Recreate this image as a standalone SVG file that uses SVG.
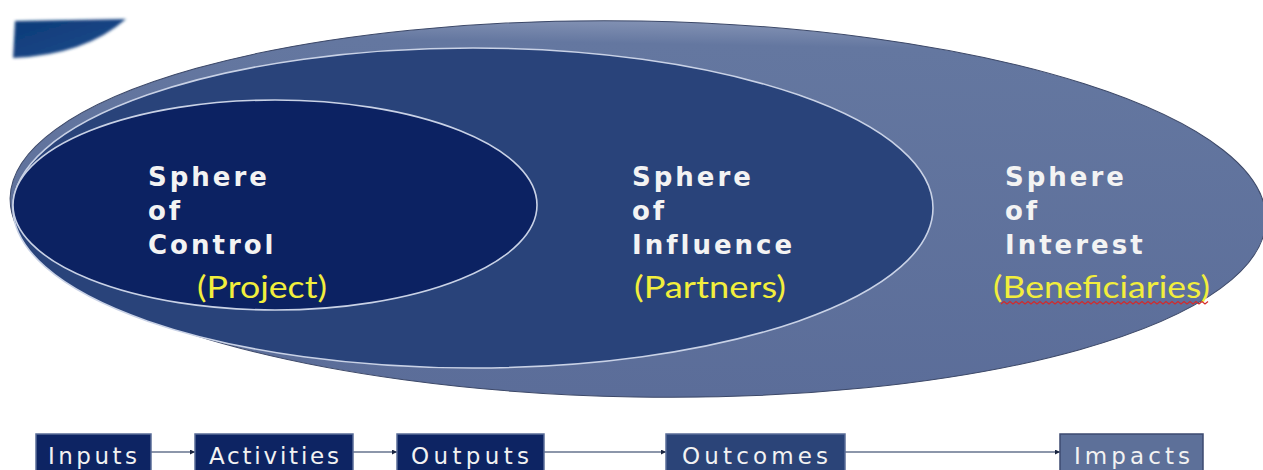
<svg xmlns="http://www.w3.org/2000/svg" width="1263" height="470" viewBox="0 0 1263 470">
  <defs>
    <filter id="blur" x="-20%" y="-50%" width="140%" height="200%">
      <feGaussianBlur stdDeviation="1.5"/>
    </filter>
    <linearGradient id="outerGrad" x1="0" y1="0" x2="0" y2="1">
      <stop offset="0" stop-color="#8291b3"/>
      <stop offset="0.06" stop-color="#6477a0"/>
      <stop offset="1" stop-color="#5b6d99"/>
    </linearGradient>
    <linearGradient id="blobGrad" x1="0" y1="0" x2="1" y2="1">
      <stop offset="0" stop-color="#0f3a78"/>
      <stop offset="1" stop-color="#174c8c"/>
    </linearGradient>
    <marker id="arrow" viewBox="0 0 10 10" refX="10" refY="5" markerWidth="5" markerHeight="5" orient="auto" markerUnits="userSpaceOnUse">
      <path d="M0,0 L10,5 L0,10 Z" fill="#1a2540"/>
    </marker>
    <style>
      .sphere { font-family: "DejaVu Sans", "Liberation Sans", sans-serif; font-weight: bold; font-size: 26px; letter-spacing: 3px; fill: #f3f3f3; }
      .who { font-family: "Lato", "Open Sans", sans-serif; font-size: 31px; fill: #f2ee3c; }
      .box { stroke: #5a6c98; stroke-width: 1.5; }
      .boxtxt { font-family: "DejaVu Sans", "Liberation Sans", sans-serif; font-size: 23px; fill: #f2f2f2; }
      .conn { stroke: #8c96aa; stroke-width: 2; fill: none; }
      .ring { stroke: #c9d2e6; stroke-width: 1.6; }
    </style>
  </defs>

  <rect width="1263" height="470" fill="#ffffff"/>

  <!-- top-left decorative blob -->
  <path d="M15,21 L126,19 Q85,55 13,58 Z" fill="url(#blobGrad)" filter="url(#blur)"/>

  <g id="sphere-interest">
    <ellipse cx="638" cy="209" rx="628" ry="188" transform="rotate(1 638 209)" fill="url(#outerGrad)" stroke="#3c4868" stroke-width="1"/>
    <text class="sphere" x="1005" y="186">Sphere</text>
    <text class="sphere" x="1005" y="220">of</text>
    <text class="sphere" x="1005" y="254">Interest</text>
    <text class="who" x="993" y="298" textLength="217" lengthAdjust="spacingAndGlyphs">(Beneficiaries)</text>
    <path d="M1001,304 l3,-2.5 l3,2.5 l3,-2.5 l3,2.5 l3,-2.5 l3,2.5 l3,-2.5 l3,2.5 l3,-2.5 l3,2.5 l3,-2.5 l3,2.5 l3,-2.5 l3,2.5 l3,-2.5 l3,2.5 l3,-2.5 l3,2.5 l3,-2.5 l3,2.5 l3,-2.5 l3,2.5 l3,-2.5 l3,2.5 l3,-2.5 l3,2.5 l3,-2.5 l3,2.5 l3,-2.5 l3,2.5 l3,-2.5 l3,2.5 l3,-2.5 l3,2.5 l3,-2.5 l3,2.5 l3,-2.5 l3,2.5 l3,-2.5 l3,2.5 l3,-2.5 l3,2.5 l3,-2.5 l3,2.5 l3,-2.5 l3,2.5 l3,-2.5 l3,2.5 l3,-2.5 l3,2.5 l3,-2.5 l3,2.5 l3,-2.5 l3,2.5 l3,-2.5 l3,2.5 l3,-2.5 l3,2.5 l3,-2.5 l3,2.5 l3,-2.5 l3,2.5 l3,-2.5 l3,2.5 l3,-2.5 l3,2.5 l3,-2.5 l3,2.5 l3,-2.5" fill="none" stroke="#d42a2a" stroke-width="1.2"/>
  </g>

  <g id="sphere-influence">
    <ellipse class="ring" cx="473" cy="208" rx="460" ry="160" fill="#29437a"/>
    <text class="sphere" x="632" y="186">Sphere</text>
    <text class="sphere" x="632" y="220">of</text>
    <text class="sphere" x="632" y="254">Influence</text>
    <text class="who" x="634" y="298" textLength="152" lengthAdjust="spacingAndGlyphs">(Partners)</text>
  </g>

  <g id="sphere-control">
    <ellipse class="ring" cx="275" cy="205" rx="262" ry="105" fill="#0c2262"/>
    <text class="sphere" x="148" y="186">Sphere</text>
    <text class="sphere" x="148" y="220">of</text>
    <text class="sphere" x="148" y="254">Control</text>
    <text class="who" x="197" y="298" textLength="130" lengthAdjust="spacingAndGlyphs">(Project)</text>
  </g>

  <g id="connectors">
    <line class="conn" x1="151" y1="452" x2="195" y2="452" marker-end="url(#arrow)"/>
    <line class="conn" x1="353" y1="452" x2="397" y2="452" marker-end="url(#arrow)"/>
    <line class="conn" x1="544" y1="452" x2="666" y2="452" marker-end="url(#arrow)"/>
    <line class="conn" x1="845" y1="452" x2="1060" y2="452" marker-end="url(#arrow)"/>
  </g>

  <g id="box-inputs">
    <rect class="box" x="36" y="434" width="115" height="40" fill="#0d2463"/>
    <text class="boxtxt" x="48" y="464" textLength="89" lengthAdjust="spacing">Inputs</text>
  </g>
  <g id="box-activities">
    <rect class="box" x="195" y="434" width="158" height="40" fill="#0d2463"/>
    <text class="boxtxt" x="209" y="464" textLength="130" lengthAdjust="spacing">Activities</text>
  </g>
  <g id="box-outputs">
    <rect class="box" x="397" y="434" width="147" height="40" fill="#0d2463"/>
    <text class="boxtxt" x="411" y="464" textLength="118" lengthAdjust="spacing">Outputs</text>
  </g>
  <g id="box-outcomes">
    <rect class="box" x="666" y="434" width="179" height="40" fill="#2b4478"/>
    <text class="boxtxt" x="682" y="464" textLength="146" lengthAdjust="spacing">Outcomes</text>
  </g>
  <g id="box-impacts">
    <rect x="1060" y="434" width="143" height="40" fill="#5d7099" stroke="#3c4a70" stroke-width="1.5"/>
    <text class="boxtxt" x="1074" y="464" textLength="116" lengthAdjust="spacing">Impacts</text>
  </g>
</svg>
